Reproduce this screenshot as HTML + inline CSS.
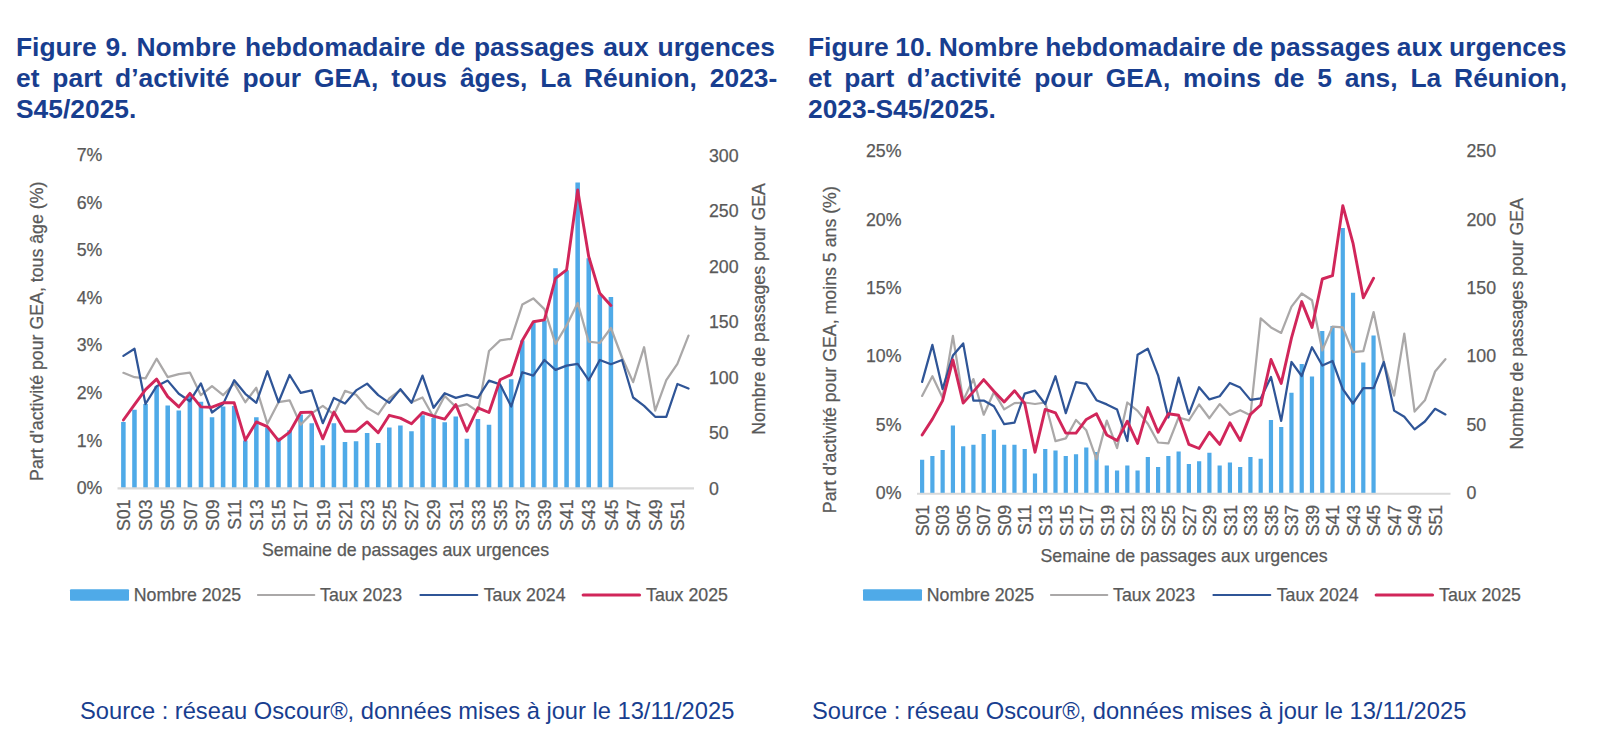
<!DOCTYPE html>
<html lang="fr">
<head>
<meta charset="utf-8">
<title>Figures 9 et 10 - GEA La Réunion</title>
<style>
html,body{margin:0;padding:0;background:#fff;}
body{width:1600px;height:738px;position:relative;overflow:hidden;font-family:"Liberation Sans",sans-serif;}
.title{position:absolute;top:31.5px;width:780px;font-weight:bold;font-size:26.4px;line-height:31px;color:#183E8F;margin:0;}
.title span{display:block;white-space:nowrap;}
.t1{left:16px;}
.t2{left:808px;}
.src{position:absolute;top:696.9px;font-size:23.7px;line-height:28px;color:#183E8F;white-space:nowrap;margin:0;}
.s1{left:80px;}
.s2{left:812px;}
svg text{stroke:#595959;stroke-width:0.25px;}
</style>
</head>
<body>
<p class="title t1"><span style="word-spacing:1.56px">Figure 9. Nombre hebdomadaire de passages aux urgences</span> <span style="word-spacing:5.56px">et part d’activité pour GEA, tous âges, La Réunion, 2023-</span> <span>S45/2025.</span></p>
<p class="title t2"><span style="word-spacing:-0.61px">Figure 10. Nombre hebdomadaire de passages aux urgences</span> <span style="word-spacing:5.51px">et part d’activité pour GEA, moins de 5 ans, La Réunion,</span> <span>2023-S45/2025.</span></p>
<svg width="1600" height="738" viewBox="0 0 1600 738" style="position:absolute;left:0;top:0" font-family="'Liberation Sans', sans-serif" font-size="17.75" fill="#595959">
<path d="M121.12 488.40V421.90H125.66V488.40ZM132.20 488.40V409.70H136.74V488.40ZM143.28 488.40V404.00H147.82V488.40ZM154.36 488.40V386.25H158.90V488.40ZM165.44 488.40V405.40H169.98V488.40ZM176.52 488.40V410.60H181.06V488.40ZM187.60 488.40V395.60H192.14V488.40ZM198.68 488.40V401.80H203.22V488.40ZM209.76 488.40V417.20H214.30V488.40ZM220.84 488.40V406.50H225.38V488.40ZM231.92 488.40V405.90H236.46V488.40ZM243.00 488.40V440.60H247.54V488.40ZM254.08 488.40V417.20H258.62V488.40ZM265.16 488.40V427.50H269.70V488.40ZM276.24 488.40V437.80H280.78V488.40ZM287.32 488.40V430.30H291.86V488.40ZM298.40 488.40V414.40H302.94V488.40ZM309.48 488.40V423.20H314.02V488.40ZM320.56 488.40V445.30H325.10V488.40ZM331.63 488.40V423.20H336.18V488.40ZM342.71 488.40V442.10H347.26V488.40ZM353.79 488.40V441.20H358.34V488.40ZM364.87 488.40V433.10H369.42V488.40ZM375.95 488.40V443.10H380.50V488.40ZM387.03 488.40V427.50H391.58V488.40ZM398.11 488.40V425.60H402.66V488.40ZM409.19 488.40V431.25H413.74V488.40ZM420.27 488.40V415.30H424.82V488.40ZM431.35 488.40V418.10H435.90V488.40ZM442.43 488.40V422.25H446.98V488.40ZM453.51 488.40V416.60H458.06V488.40ZM464.59 488.40V438.75H469.14V488.40ZM475.67 488.40V419.10H480.22V488.40ZM486.75 488.40V424.70H491.29V488.40ZM497.83 488.40V386.25H502.37V488.40ZM508.91 488.40V379.30H513.45V488.40ZM519.99 488.40V340.50H524.53V488.40ZM531.07 488.40V322.90H535.61V488.40ZM542.15 488.40V320.40H546.69V488.40ZM553.23 488.40V268.30H557.77V488.40ZM564.31 488.40V270.30H568.85V488.40ZM575.39 488.40V182.50H579.93V488.40ZM586.47 488.40V258.20H591.01V488.40ZM597.55 488.40V294.60H602.09V488.40ZM608.63 488.40V297.10H613.17V488.40Z" fill="#4FAAE8"/>
<line x1="117.5" y1="488.40" x2="694.0" y2="488.40" stroke="#D9D9D9" stroke-width="2.2"/>
<polyline points="123.4,372.8 134.5,377.2 145.5,378.4 156.6,358.7 167.7,377.2 178.8,374.1 189.9,372.6 200.9,395.2 212.0,386.2 223.1,395.2 234.2,383.4 245.3,402.2 256.3,387.8 267.4,423.8 278.5,402.2 289.6,400.3 300.7,424.7 311.7,413.4 322.8,405.9 333.9,414.4 345.0,390.9 356.1,394.7 367.1,407.8 378.2,414.4 389.3,398.4 400.4,390.0 411.5,402.2 422.5,397.5 433.6,417.2 444.7,396.0 455.8,406.9 466.9,404.1 477.9,411.6 489.0,351.0 500.1,340.4 511.2,338.8 522.3,304.6 533.3,298.4 544.4,309.1 555.5,343.8 566.6,325.4 577.7,302.9 588.7,341.7 599.8,343.0 610.9,328.0 622.0,357.5 633.1,382.1 644.1,347.2 655.2,410.6 666.3,380.2 677.4,363.8 688.5,335.6" fill="none" stroke="#AAA8A8" stroke-width="2.25" stroke-linejoin="round" stroke-linecap="round"/>
<polyline points="123.4,355.9 134.5,348.8 145.5,404.0 156.6,386.2 167.7,380.6 178.8,393.8 189.9,401.2 200.9,383.4 212.0,412.5 223.1,404.1 234.2,380.2 245.3,393.8 256.3,402.8 267.4,371.2 278.5,402.2 289.6,375.0 300.7,392.8 311.7,390.4 322.8,423.2 333.9,397.9 345.0,403.5 356.1,390.4 367.1,383.6 378.2,395.1 389.3,402.8 400.4,389.1 411.5,402.8 422.5,375.6 433.6,407.8 444.7,393.2 455.8,397.9 466.9,394.9 477.9,397.9 489.0,380.6 500.1,384.4 511.2,406.5 522.3,372.2 533.3,375.6 544.4,360.0 555.5,369.9 566.6,365.6 577.7,363.8 588.7,380.2 599.8,360.0 610.9,364.3 622.0,360.0 633.1,397.5 644.1,405.9 655.2,416.8 666.3,416.8 677.4,384.0 688.5,388.5" fill="none" stroke="#2F5597" stroke-width="2.25" stroke-linejoin="round" stroke-linecap="round"/>
<polyline points="123.4,420.0 134.5,404.6 145.5,389.6 156.6,379.1 167.7,396.6 178.8,406.9 189.9,393.4 200.9,406.9 212.0,407.2 223.1,402.8 234.2,402.8 245.3,440.2 256.3,421.9 267.4,426.6 278.5,440.6 289.6,432.2 300.7,412.5 311.7,412.1 322.8,438.8 333.9,412.1 345.0,431.2 356.1,431.2 367.1,421.9 378.2,432.8 389.3,415.3 400.4,418.1 411.5,423.8 422.5,412.5 433.6,416.2 444.7,419.1 455.8,404.6 466.9,431.2 477.9,407.8 489.0,412.5 500.1,379.7 511.2,374.6 522.3,340.5 533.3,321.7 544.4,319.9 555.5,278.3 566.6,269.8 577.7,190.0 588.7,256.5 599.8,293.3 610.9,305.4" fill="none" stroke="#D1265A" stroke-width="2.9" stroke-linejoin="round" stroke-linecap="round"/>
<text transform="translate(123.39 499.40) rotate(-90)" text-anchor="end" dy="0.38em">S01</text>
<text transform="translate(145.55 499.40) rotate(-90)" text-anchor="end" dy="0.38em">S03</text>
<text transform="translate(167.71 499.40) rotate(-90)" text-anchor="end" dy="0.38em">S05</text>
<text transform="translate(189.87 499.40) rotate(-90)" text-anchor="end" dy="0.38em">S07</text>
<text transform="translate(212.03 499.40) rotate(-90)" text-anchor="end" dy="0.38em">S09</text>
<text transform="translate(234.19 499.40) rotate(-90)" text-anchor="end" dy="0.38em">S11</text>
<text transform="translate(256.35 499.40) rotate(-90)" text-anchor="end" dy="0.38em">S13</text>
<text transform="translate(278.51 499.40) rotate(-90)" text-anchor="end" dy="0.38em">S15</text>
<text transform="translate(300.67 499.40) rotate(-90)" text-anchor="end" dy="0.38em">S17</text>
<text transform="translate(322.83 499.40) rotate(-90)" text-anchor="end" dy="0.38em">S19</text>
<text transform="translate(344.99 499.40) rotate(-90)" text-anchor="end" dy="0.38em">S21</text>
<text transform="translate(367.15 499.40) rotate(-90)" text-anchor="end" dy="0.38em">S23</text>
<text transform="translate(389.31 499.40) rotate(-90)" text-anchor="end" dy="0.38em">S25</text>
<text transform="translate(411.46 499.40) rotate(-90)" text-anchor="end" dy="0.38em">S27</text>
<text transform="translate(433.62 499.40) rotate(-90)" text-anchor="end" dy="0.38em">S29</text>
<text transform="translate(455.78 499.40) rotate(-90)" text-anchor="end" dy="0.38em">S31</text>
<text transform="translate(477.94 499.40) rotate(-90)" text-anchor="end" dy="0.38em">S33</text>
<text transform="translate(500.10 499.40) rotate(-90)" text-anchor="end" dy="0.38em">S35</text>
<text transform="translate(522.26 499.40) rotate(-90)" text-anchor="end" dy="0.38em">S37</text>
<text transform="translate(544.42 499.40) rotate(-90)" text-anchor="end" dy="0.38em">S39</text>
<text transform="translate(566.58 499.40) rotate(-90)" text-anchor="end" dy="0.38em">S41</text>
<text transform="translate(588.74 499.40) rotate(-90)" text-anchor="end" dy="0.38em">S43</text>
<text transform="translate(610.90 499.40) rotate(-90)" text-anchor="end" dy="0.38em">S45</text>
<text transform="translate(633.06 499.40) rotate(-90)" text-anchor="end" dy="0.38em">S47</text>
<text transform="translate(655.22 499.40) rotate(-90)" text-anchor="end" dy="0.38em">S49</text>
<text transform="translate(677.38 499.40) rotate(-90)" text-anchor="end" dy="0.38em">S51</text>
<text x="102.40" y="488.40" text-anchor="end" dy="0.325em">0%</text>
<text x="102.40" y="440.83" text-anchor="end" dy="0.325em">1%</text>
<text x="102.40" y="393.26" text-anchor="end" dy="0.325em">2%</text>
<text x="102.40" y="345.69" text-anchor="end" dy="0.325em">3%</text>
<text x="102.40" y="298.11" text-anchor="end" dy="0.325em">4%</text>
<text x="102.40" y="250.54" text-anchor="end" dy="0.325em">5%</text>
<text x="102.40" y="202.97" text-anchor="end" dy="0.325em">6%</text>
<text x="102.40" y="155.40" text-anchor="end" dy="0.325em">7%</text>
<text x="709.00" y="489.00" text-anchor="start" dy="0.325em">0</text>
<text x="709.00" y="433.50" text-anchor="start" dy="0.325em">50</text>
<text x="709.00" y="378.00" text-anchor="start" dy="0.325em">100</text>
<text x="709.00" y="322.50" text-anchor="start" dy="0.325em">150</text>
<text x="709.00" y="267.00" text-anchor="start" dy="0.325em">200</text>
<text x="709.00" y="211.50" text-anchor="start" dy="0.325em">250</text>
<text x="709.00" y="156.00" text-anchor="start" dy="0.325em">300</text>
<text transform="translate(37.10 181.60) rotate(-90)" text-anchor="end" dy="0.36em">Part d'activité pour GEA, tous âge (%)</text>
<text transform="translate(758.30 183.10) rotate(-90)" text-anchor="end" dy="0.36em">Nombre de passages pour GEA</text>
<text x="405.5" y="550" text-anchor="middle" dy="0.36em">Semaine de passages aux urgences</text>
<rect x="70.00" y="589.20" width="59" height="11.6" rx="1" fill="#4FAAE8"/>
<text x="133.70" y="595.00" dy="0.315em">Nombre 2025</text>
<line x1="257.90" y1="595.00" x2="314.30" y2="595.00" stroke="#AAA8A8" stroke-width="2" stroke-linecap="round"/>
<text x="320.10" y="595.00" dy="0.315em">Taux 2023</text>
<line x1="420.40" y1="595.00" x2="477.30" y2="595.00" stroke="#2F5597" stroke-width="2" stroke-linecap="round"/>
<text x="483.70" y="595.00" dy="0.315em">Taux 2024</text>
<line x1="583.20" y1="595.00" x2="639.50" y2="595.00" stroke="#D1265A" stroke-width="3.2" stroke-linecap="round"/>
<text x="646.00" y="595.00" dy="0.315em">Taux 2025</text>
<path d="M920.03 493.75V459.75H924.23V493.75ZM930.29 493.75V456.00H934.49V493.75ZM940.55 493.75V450.00H944.75V493.75ZM950.81 493.75V425.60H955.01V493.75ZM961.07 493.75V446.25H965.27V493.75ZM971.32 493.75V444.75H975.53V493.75ZM981.58 493.75V434.10H985.79V493.75ZM991.84 493.75V429.75H996.05V493.75ZM1002.10 493.75V444.75H1006.31V493.75ZM1012.36 493.75V444.75H1016.57V493.75ZM1022.62 493.75V449.10H1026.83V493.75ZM1032.88 493.75V473.40H1037.09V493.75ZM1043.14 493.75V449.10H1047.35V493.75ZM1053.40 493.75V450.40H1057.61V493.75ZM1063.66 493.75V456.00H1067.87V493.75ZM1073.92 493.75V454.30H1078.13V493.75ZM1084.18 493.75V447.60H1088.39V493.75ZM1094.44 493.75V451.90H1098.65V493.75ZM1104.70 493.75V465.60H1108.91V493.75ZM1114.96 493.75V470.60H1119.17V493.75ZM1125.22 493.75V465.60H1129.43V493.75ZM1135.48 493.75V470.60H1139.68V493.75ZM1145.74 493.75V457.10H1149.94V493.75ZM1156.00 493.75V466.90H1160.20V493.75ZM1166.26 493.75V456.00H1170.46V493.75ZM1176.52 493.75V451.50H1180.72V493.75ZM1186.78 493.75V464.10H1190.98V493.75ZM1197.04 493.75V461.25H1201.24V493.75ZM1207.30 493.75V452.80H1211.50V493.75ZM1217.56 493.75V465.40H1221.76V493.75ZM1227.82 493.75V462.60H1232.02V493.75ZM1238.07 493.75V466.90H1242.28V493.75ZM1248.33 493.75V457.10H1252.54V493.75ZM1258.59 493.75V458.80H1262.80V493.75ZM1268.85 493.75V420.00H1273.06V493.75ZM1279.11 493.75V426.90H1283.32V493.75ZM1289.37 493.75V392.80H1293.58V493.75ZM1299.63 493.75V364.10H1303.84V493.75ZM1309.89 493.75V376.50H1314.10V493.75ZM1320.15 493.75V330.90H1324.36V493.75ZM1330.41 493.75V325.90H1334.62V493.75ZM1340.67 493.75V228.10H1344.88V493.75ZM1350.93 493.75V292.80H1355.14V493.75ZM1361.19 493.75V362.40H1365.40V493.75ZM1371.45 493.75V335.40H1375.66V493.75Z" fill="#4FAAE8"/>
<line x1="917.0" y1="493.75" x2="1450.5" y2="493.75" stroke="#D9D9D9" stroke-width="2.2"/>
<polyline points="922.1,395.9 932.4,376.2 942.6,397.8 952.9,335.9 963.2,400.6 973.4,379.1 983.7,414.7 993.9,392.2 1004.2,409.4 1014.5,403.1 1024.7,402.5 1035.0,404.0 1045.2,402.5 1055.5,441.2 1065.8,438.4 1076.0,420.0 1086.3,430.3 1096.5,459.4 1106.8,420.6 1117.1,448.1 1127.3,402.5 1137.6,410.9 1147.8,423.8 1158.1,442.5 1168.4,443.4 1178.6,417.5 1188.9,420.3 1199.1,404.5 1209.4,418.2 1219.7,404.1 1229.9,414.9 1240.2,410.2 1250.4,415.3 1260.7,318.4 1271.0,327.4 1281.2,332.9 1291.5,306.6 1301.7,293.5 1312.0,300.3 1322.3,350.4 1332.5,326.6 1342.8,327.4 1353.0,352.2 1363.3,351.2 1373.6,312.1 1383.8,362.0 1394.1,395.6 1404.3,333.6 1414.6,411.6 1424.9,400.3 1435.1,371.5 1445.4,359.2" fill="none" stroke="#AAA8A8" stroke-width="2.25" stroke-linejoin="round" stroke-linecap="round"/>
<polyline points="922.1,381.9 932.4,344.9 942.6,389.0 952.9,355.6 963.2,343.4 973.4,400.6 983.7,400.6 993.9,406.2 1004.2,424.2 1014.5,422.6 1024.7,393.7 1035.0,390.7 1045.2,404.0 1055.5,376.2 1065.8,413.2 1076.0,382.2 1086.3,383.8 1096.5,400.2 1106.8,404.4 1117.1,409.6 1127.3,441.0 1137.6,354.7 1147.8,348.7 1158.1,375.3 1168.4,417.5 1178.6,377.6 1188.9,413.8 1199.1,387.2 1209.4,399.4 1219.7,396.2 1229.9,382.9 1240.2,387.6 1250.4,399.9 1260.7,398.4 1271.0,376.9 1281.2,420.9 1291.5,362.0 1301.7,376.0 1312.0,347.2 1322.3,365.5 1332.5,361.0 1342.8,389.1 1353.0,403.5 1363.3,388.1 1373.6,388.1 1383.8,362.0 1394.1,410.6 1404.3,416.8 1414.6,429.4 1424.9,421.5 1435.1,408.8 1445.4,414.4" fill="none" stroke="#2F5597" stroke-width="2.25" stroke-linejoin="round" stroke-linecap="round"/>
<polyline points="922.1,435.0 932.4,419.1 942.6,400.6 952.9,359.8 963.2,403.1 973.4,391.6 983.7,379.6 993.9,391.2 1004.2,401.9 1014.5,390.7 1024.7,403.4 1035.0,452.2 1045.2,409.4 1055.5,412.8 1065.8,433.1 1076.0,433.1 1086.3,419.4 1096.5,413.8 1106.8,435.0 1117.1,440.6 1127.3,421.2 1137.6,443.4 1147.8,407.6 1158.1,432.2 1168.4,413.8 1178.6,415.2 1188.9,444.4 1199.1,448.5 1209.4,432.2 1219.7,444.4 1229.9,422.8 1240.2,440.6 1250.4,414.4 1260.7,405.0 1271.0,359.5 1281.2,383.4 1291.5,337.9 1301.7,301.6 1312.0,327.4 1322.3,279.0 1332.5,275.7 1342.8,205.6 1353.0,243.1 1363.3,297.8 1373.6,278.2" fill="none" stroke="#D1265A" stroke-width="2.9" stroke-linejoin="round" stroke-linecap="round"/>
<text transform="translate(922.13 504.75) rotate(-90)" text-anchor="end" dy="0.38em">S01</text>
<text transform="translate(942.65 504.75) rotate(-90)" text-anchor="end" dy="0.38em">S03</text>
<text transform="translate(963.17 504.75) rotate(-90)" text-anchor="end" dy="0.38em">S05</text>
<text transform="translate(983.69 504.75) rotate(-90)" text-anchor="end" dy="0.38em">S07</text>
<text transform="translate(1004.21 504.75) rotate(-90)" text-anchor="end" dy="0.38em">S09</text>
<text transform="translate(1024.73 504.75) rotate(-90)" text-anchor="end" dy="0.38em">S11</text>
<text transform="translate(1045.25 504.75) rotate(-90)" text-anchor="end" dy="0.38em">S13</text>
<text transform="translate(1065.76 504.75) rotate(-90)" text-anchor="end" dy="0.38em">S15</text>
<text transform="translate(1086.28 504.75) rotate(-90)" text-anchor="end" dy="0.38em">S17</text>
<text transform="translate(1106.80 504.75) rotate(-90)" text-anchor="end" dy="0.38em">S19</text>
<text transform="translate(1127.32 504.75) rotate(-90)" text-anchor="end" dy="0.38em">S21</text>
<text transform="translate(1147.84 504.75) rotate(-90)" text-anchor="end" dy="0.38em">S23</text>
<text transform="translate(1168.36 504.75) rotate(-90)" text-anchor="end" dy="0.38em">S25</text>
<text transform="translate(1188.88 504.75) rotate(-90)" text-anchor="end" dy="0.38em">S27</text>
<text transform="translate(1209.40 504.75) rotate(-90)" text-anchor="end" dy="0.38em">S29</text>
<text transform="translate(1229.92 504.75) rotate(-90)" text-anchor="end" dy="0.38em">S31</text>
<text transform="translate(1250.44 504.75) rotate(-90)" text-anchor="end" dy="0.38em">S33</text>
<text transform="translate(1270.96 504.75) rotate(-90)" text-anchor="end" dy="0.38em">S35</text>
<text transform="translate(1291.48 504.75) rotate(-90)" text-anchor="end" dy="0.38em">S37</text>
<text transform="translate(1312.00 504.75) rotate(-90)" text-anchor="end" dy="0.38em">S39</text>
<text transform="translate(1332.51 504.75) rotate(-90)" text-anchor="end" dy="0.38em">S41</text>
<text transform="translate(1353.03 504.75) rotate(-90)" text-anchor="end" dy="0.38em">S43</text>
<text transform="translate(1373.55 504.75) rotate(-90)" text-anchor="end" dy="0.38em">S45</text>
<text transform="translate(1394.07 504.75) rotate(-90)" text-anchor="end" dy="0.38em">S47</text>
<text transform="translate(1414.59 504.75) rotate(-90)" text-anchor="end" dy="0.38em">S49</text>
<text transform="translate(1435.11 504.75) rotate(-90)" text-anchor="end" dy="0.38em">S51</text>
<text x="901.50" y="493.60" text-anchor="end" dy="0.325em">0%</text>
<text x="901.50" y="425.16" text-anchor="end" dy="0.325em">5%</text>
<text x="901.50" y="356.72" text-anchor="end" dy="0.325em">10%</text>
<text x="901.50" y="288.28" text-anchor="end" dy="0.325em">15%</text>
<text x="901.50" y="219.84" text-anchor="end" dy="0.325em">20%</text>
<text x="901.50" y="151.40" text-anchor="end" dy="0.325em">25%</text>
<text x="1466.50" y="493.60" text-anchor="start" dy="0.325em">0</text>
<text x="1466.50" y="425.16" text-anchor="start" dy="0.325em">50</text>
<text x="1466.50" y="356.72" text-anchor="start" dy="0.325em">100</text>
<text x="1466.50" y="288.28" text-anchor="start" dy="0.325em">150</text>
<text x="1466.50" y="219.84" text-anchor="start" dy="0.325em">200</text>
<text x="1466.50" y="151.40" text-anchor="start" dy="0.325em">250</text>
<text transform="translate(829.60 186.20) rotate(-90)" text-anchor="end" dy="0.36em">Part d'activité pour GEA, moins 5 ans (%)</text>
<text transform="translate(1516.30 198.00) rotate(-90)" text-anchor="end" dy="0.36em">Nombre de passages pour GEA</text>
<text x="1184" y="556" text-anchor="middle" dy="0.36em">Semaine de passages aux urgences</text>
<rect x="863.00" y="589.20" width="59" height="11.6" rx="1" fill="#4FAAE8"/>
<text x="926.70" y="595.00" dy="0.315em">Nombre 2025</text>
<line x1="1050.90" y1="595.00" x2="1107.30" y2="595.00" stroke="#AAA8A8" stroke-width="2" stroke-linecap="round"/>
<text x="1113.10" y="595.00" dy="0.315em">Taux 2023</text>
<line x1="1213.40" y1="595.00" x2="1270.30" y2="595.00" stroke="#2F5597" stroke-width="2" stroke-linecap="round"/>
<text x="1276.70" y="595.00" dy="0.315em">Taux 2024</text>
<line x1="1376.20" y1="595.00" x2="1432.50" y2="595.00" stroke="#D1265A" stroke-width="3.2" stroke-linecap="round"/>
<text x="1439.00" y="595.00" dy="0.315em">Taux 2025</text>
</svg>
<p class="src s1">Source : réseau Oscour®, données mises à jour le 13/11/2025</p>
<p class="src s2">Source : réseau Oscour®, données mises à jour le 13/11/2025</p>
</body>
</html>
